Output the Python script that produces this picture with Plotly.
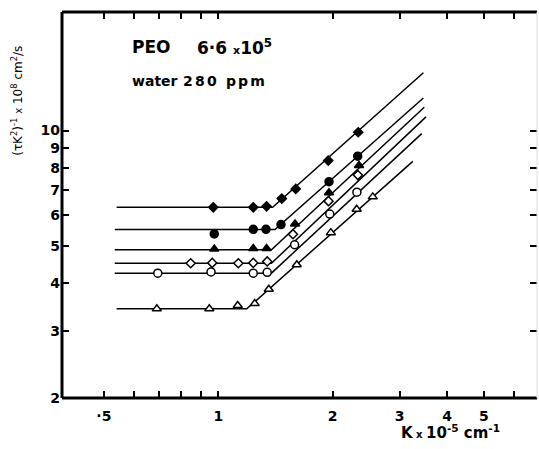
import math
import plotly.graph_objects as go

# ---- data (K in 1e5 cm^-1, (tau K^2)^-1 in 1e-8 cm^2/s) ----
x_tickvals = [0.5, 0.6, 0.7, 0.8, 0.9, 1, 2, 3, 4, 5, 6]
x_ticktext = ["·5", "", "", "", "", "1", "2", "3", "4", "5", ""]
y_tickvals = [2, 3, 4, 5, 6, 7, 8, 9, 10]
y_ticktext = ["2", "3", "4", "5", "6", "7", "8", "9", "10"]

# filled diamonds
k_fd = [0.97, 1.236, 1.34, 1.469, 1.599, 1.947, 2.335]
v_fd = [6.30, 6.30, 6.34, 6.64, 7.04, 8.35, 9.90]
line_k_fd = [0.54, 1.39, 3.465]
line_v_fd = [6.30, 6.30, 14.16]

# filled circles
k_fc = [0.976, 1.236, 1.335, 1.462, 1.956, 2.327]
v_fc = [5.37, 5.52, 5.52, 5.68, 7.35, 8.57]
line_k_fc = [0.534, 1.41, 3.465]
line_v_fc = [5.51, 5.51, 12.17]

# filled triangles
k_ft = [0.976, 1.236, 1.34, 1.592, 1.956, 2.346]
v_ft = [4.90, 4.92, 4.92, 5.70, 6.88, 8.10]
line_k_ft = [0.534, 1.38, 3.484]
line_v_ft = [4.88, 4.88, 11.51]

# open diamonds
k_od = [0.846, 0.964, 1.129, 1.236, 1.345, 1.572, 1.950, 2.330]
v_od = [4.50, 4.51, 4.50, 4.51, 4.55, 5.36, 6.54, 7.65]
line_k_od = [0.534, 1.38, 3.52]
line_v_od = [4.50, 4.50, 10.86]

# open circles
k_oc = [0.693, 0.957, 1.236, 1.345, 1.588, 1.965, 2.316]
v_oc = [4.24, 4.27, 4.24, 4.26, 5.03, 6.05, 6.90]
line_k_oc = [0.534, 1.38, 3.43]
line_v_oc = [4.24, 4.24, 9.82]

# open triangles
k_ot = [0.689, 0.947, 1.125, 1.247, 1.358, 1.609, 1.978, 2.313, 2.55]
v_ot = [3.42, 3.42, 3.49, 3.53, 3.85, 4.46, 5.41, 6.23, 6.71]
line_k_ot = [0.54, 1.188, 3.25]
line_v_ot = [3.42, 3.42, 8.31]

series = [
    (k_fd, v_fd, line_k_fd, line_v_fd, "diamond", 7, "black"),
    (k_fc, v_fc, line_k_fc, line_v_fc, "circle", 8, "black"),
    (k_ft, v_ft, line_k_ft, line_v_ft, "triangle-up", 8, "black"),
    (k_od, v_od, line_k_od, line_v_od, "diamond", 7, "white"),
    (k_oc, v_oc, line_k_oc, line_v_oc, "circle", 8, "white"),
    (k_ot, v_ot, line_k_ot, line_v_ot, "triangle-up", 8, "white"),
]

fig = go.Figure()
for kx, vy, lkx, lvy, sym, sz, fill in series:
    fig.add_trace(go.Scatter(x=lkx, y=lvy, mode="lines",
                             line=dict(color="black", width=1.5),
                             showlegend=False, hoverinfo="skip"))
for kx, vy, lkx, lvy, sym, sz, fill in series:
    fig.add_trace(go.Scatter(x=kx, y=vy, mode="markers",
                             marker=dict(symbol=sym, size=sz, color=fill,
                                         line=dict(color="black", width=1.5)),
                             showlegend=False))

FONT = "DejaVu Sans"
tickfont = dict(family=FONT, size=14, color="black", weight="bold")

fig.update_xaxes(type="log", range=[-0.4113, 0.8387],
                 tickvals=x_tickvals, ticktext=x_ticktext,
                 ticks="inside", ticklen=7, tickwidth=1.5, tickcolor="black",
                 mirror="ticks", showline=False, showgrid=False, zeroline=False,
                 tickfont=tickfont, ticklabelstandoff=8)
fig.update_yaxes(type="log", range=[0.30103, 1.3099],
                 tickvals=y_tickvals, ticktext=y_ticktext,
                 ticks="inside", ticklen=7, tickwidth=1.5, tickcolor="black",
                 mirror="ticks", showline=False, showgrid=False, zeroline=False,
                 tickfont=tickfont, ticklabelstandoff=1)

# frame
for x0, y0, x1, y1, w, c in [(0, 0, 0, 1, 3, "black"), (0, 0, 1, 0, 3, "black"),
                             (0, 1, 1, 1, 3, "black"), (1, 0, 1, 1, 1, "#dddddd")]:
    fig.add_shape(type="line", xref="paper", yref="paper", x0=x0, y0=y0, x1=x1, y1=y1,
                  line=dict(color=c, width=w))

bold = dict(family=FONT, color="black", weight="bold")
fig.add_annotation(xref="paper", yref="paper", x=0.143, y=0.9106, xanchor="left",
                   yanchor="middle", showarrow=False, text="PEO",
                   font=dict(size=17, **bold))
fig.add_annotation(xref="paper", yref="paper", x=0.28, y=0.9106, xanchor="left",
                   yanchor="middle", showarrow=False,
                   text="6·6 <span style='font-size:11px'>x</span>10<sup>5</sup>",
                   font=dict(size=17, **bold))
fig.add_annotation(xref="paper", yref="paper", x=0.143, y=0.822, xanchor="left",
                   yanchor="middle", showarrow=False, text="water",
                   font=dict(size=14, **bold))
fig.add_annotation(xref="paper", yref="paper", x=0.2495, y=0.822, xanchor="left",
                   yanchor="middle", showarrow=False,
                   text="<span style='letter-spacing:2.2px'>280 ppm</span>",
                   font=dict(size=14, **bold))
fig.add_annotation(xref="paper", yref="paper", x=-0.0947, y=0.77, xanchor="center",
                   yanchor="middle", showarrow=False, textangle=-90,
                   text="(τK<sup>2</sup>)<sup>-1</sup> <span style='font-size:10px'>x</span> 10<sup>8</sup> cm<sup>2</sup>/s",
                   font=dict(family=FONT, size=12, color="black"))
fig.add_annotation(xref="paper", yref="paper", x=0.817, y=-0.0873, xanchor="center",
                   yanchor="middle", showarrow=False,
                   text="K<span style='font-size:10px'> x </span>10<sup>-5</sup> cm<sup>-1</sup>",
                   font=dict(family=FONT, size=15, color="black", weight="bold"))

fig.update_layout(width=539, height=449,
                  margin=dict(l=62, r=2, t=12, b=51),
                  paper_bgcolor="white", plot_bgcolor="white")

fig.write_html("out.html", config={"displayModeBar": False},
               post_script="document.body.style.margin='0';"
                           "document.body.style.overflow='hidden';")
